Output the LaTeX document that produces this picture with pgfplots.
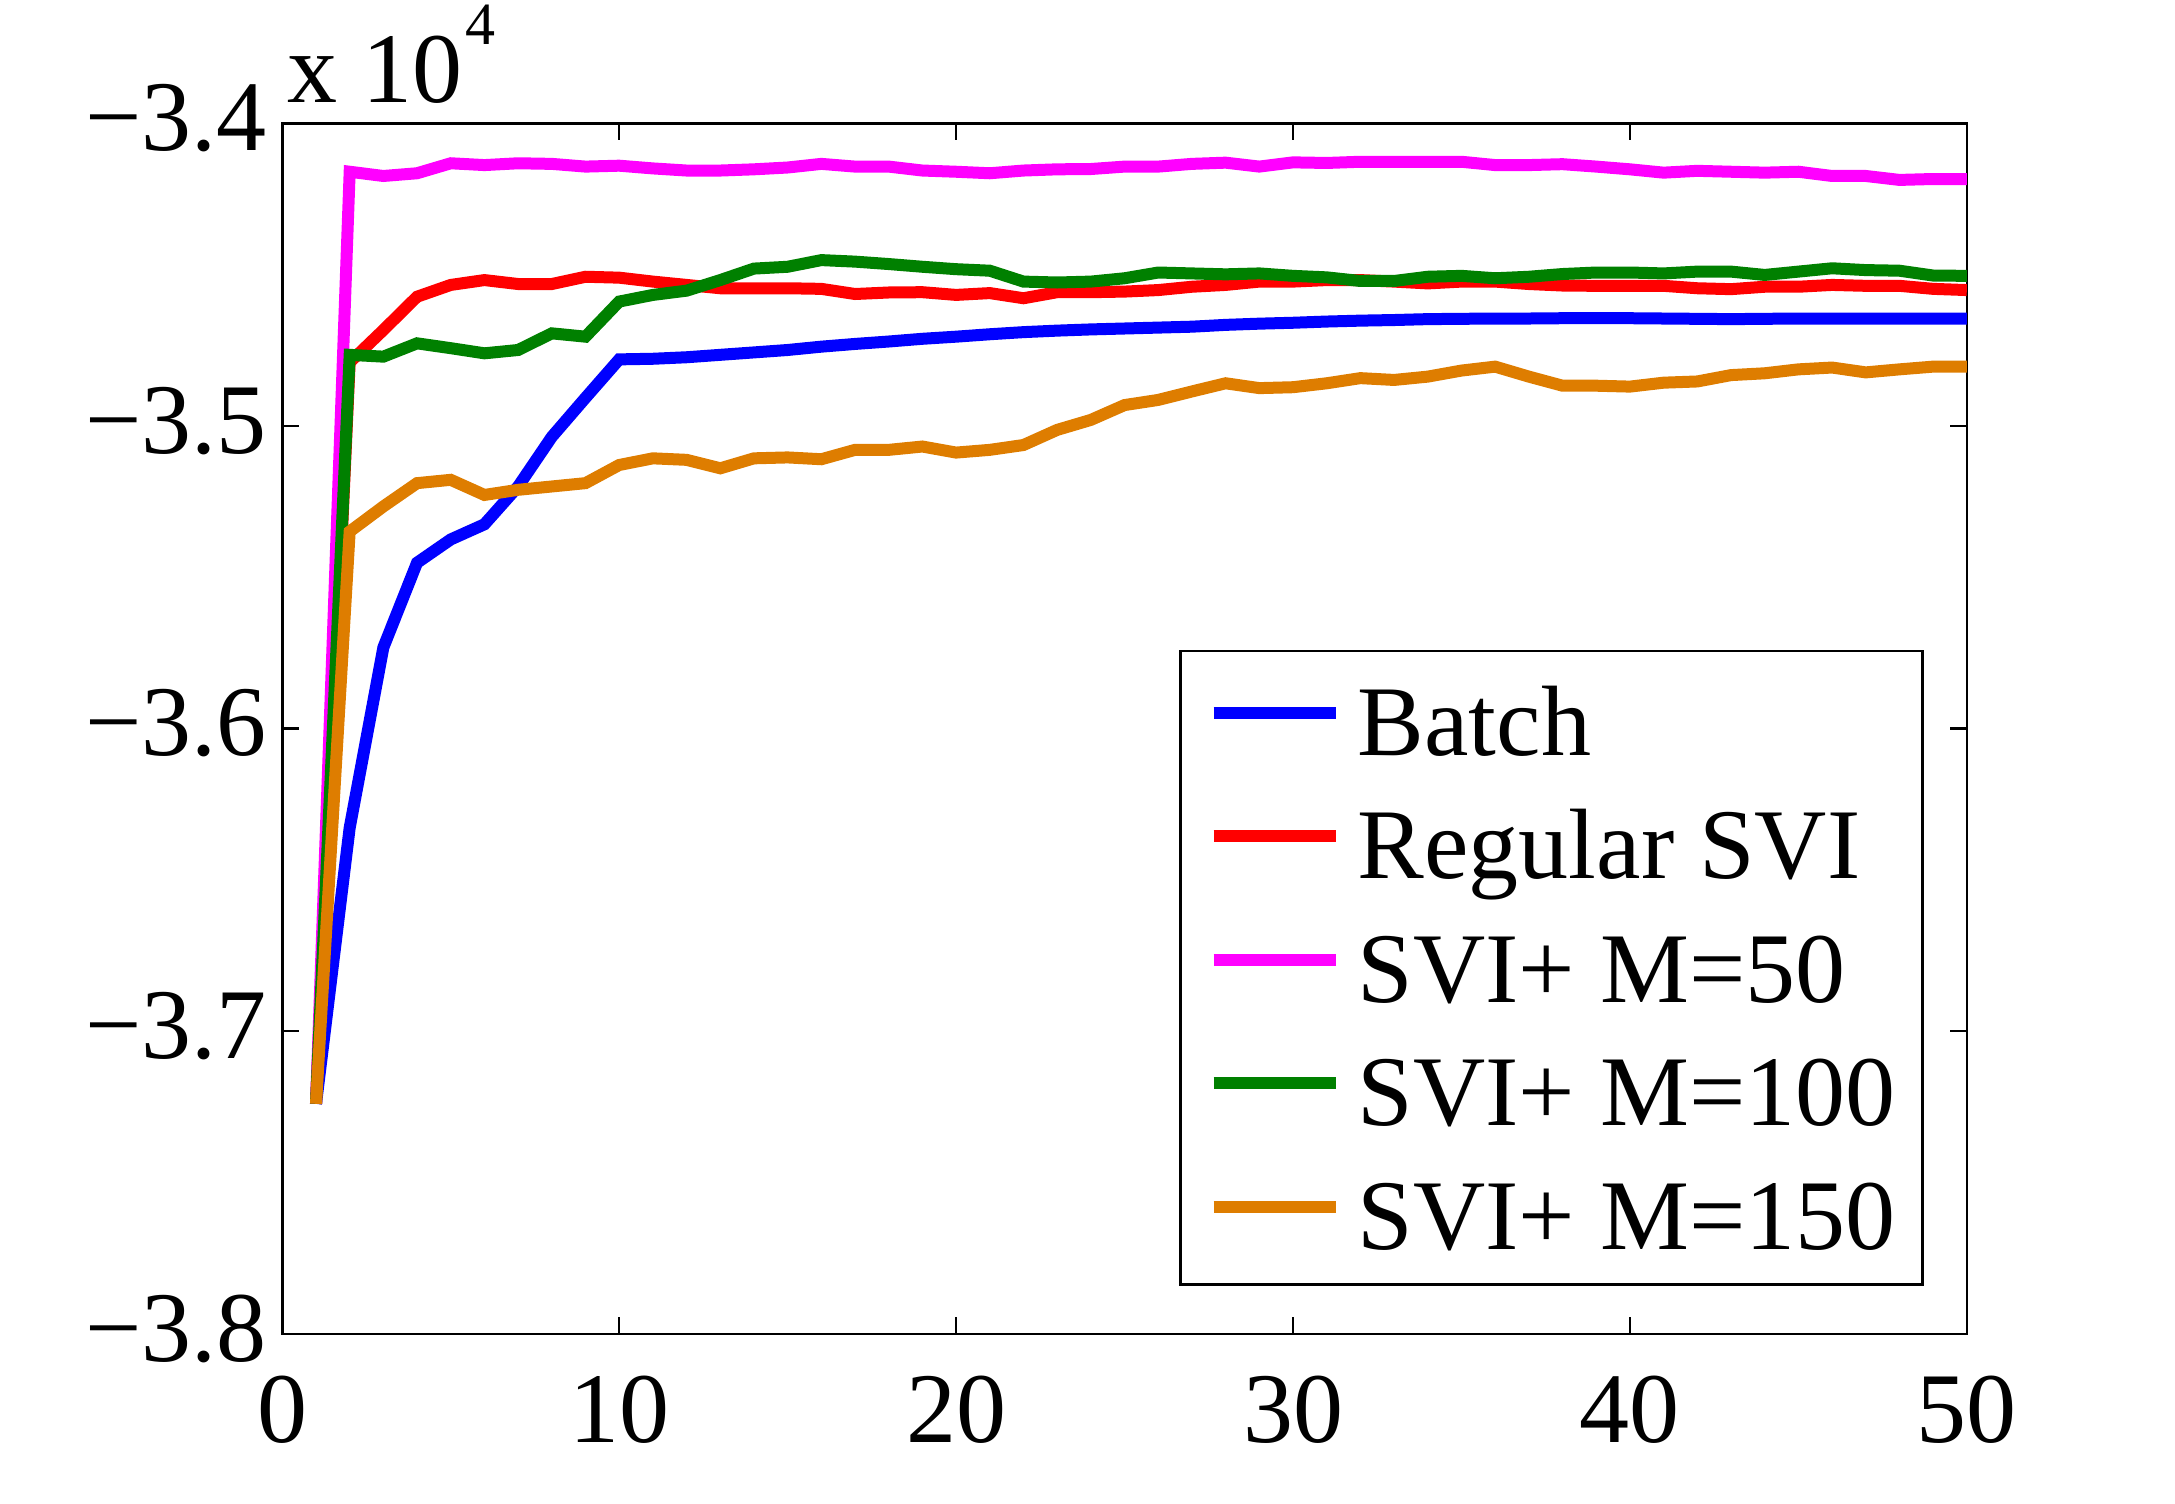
\documentclass[border=0pt]{standalone}
\usepackage{fontspec}
\setmainfont{Liberation Serif}
\usepackage{pgfplots}
\pgfplotsset{compat=1.18}

\definecolor{mBlue}{RGB}{0,0,255}
\definecolor{mRed}{RGB}{255,0,0}
\definecolor{mMagenta}{RGB}{255,0,255}
\definecolor{mGreen}{RGB}{0,128,0}
\definecolor{mOrange}{RGB}{222,125,0}

\begin{document}
\begin{tikzpicture}
\path[use as bounding box] (-56.46pt,-34pt) rectangle (378.54pt,266.76pt);
\begin{axis}[
  name=ax,
  scale only axis,
  width=336.9pt, height=242.1pt,
  xmin=0, xmax=50, ymin=-3.8, ymax=-3.4,
  xtick={0,10,20,30,40,50},
  xticklabels={0,10,20,30,40,50},
  ytick={-3.8,-3.7,-3.6,-3.5,-3.4},
  yticklabels={−3.8,−3.7,−3.6,−3.5,−3.4},
  tick align=inside,
  major tick length=3.4pt,
  axis line style={line width=0.5pt},
  every tick/.style={black, line width=0.5pt},
  tick label style={font=\fontsize{20}{24}\selectfont},
  xticklabel style={inner sep=0pt, anchor=north, yshift=-8.3pt},
  yticklabel style={inner sep=0pt, anchor=east, xshift=-2.9pt, yshift=1pt},
  legend image code/.code={\draw[#1] (0pt,1.6pt) -- (24.4pt,1.6pt);},
  legend cell align=left,
  legend style={
    at={(rel axis cs:1,0)}, anchor=south east,
    xshift=-8.6pt, yshift=9.6pt,
    draw=black, line width=0.5pt, fill=white,
    font=\fontsize{20}{24}\selectfont,
    inner xsep=5.4pt, inner ysep=4.6pt,
    column sep=3.2pt, row sep=6pt,
    nodes={inner sep=0pt, text height=16.2pt, text depth=2.5pt},
  },
  every axis plot/.append style={line width=2.4pt},
]
% Batch
\addplot[mBlue] coordinates {
(1,-3.724) (2,-3.6328) (3,-3.5732) (4,-3.5452) (5,-3.5375) (6,-3.5325)
(7,-3.5200) (8,-3.5036) (9,-3.4907) (10,-3.4780) (11,-3.4778) (12,-3.4773)
(13,-3.4765) (14,-3.4757) (15,-3.4749) (16,-3.4738) (17,-3.4729) (18,-3.4721)
(19,-3.4712) (20,-3.4705) (21,-3.4697) (22,-3.4690) (23,-3.4685) (24,-3.4681)
(25,-3.4678) (26,-3.4675) (27,-3.4672) (28,-3.4666) (29,-3.4662) (30,-3.4659)
(31,-3.4655) (32,-3.4652) (33,-3.4650) (34,-3.4647) (35,-3.4646) (36,-3.4645)
(37,-3.4645) (38,-3.4644) (39,-3.4644) (40,-3.4644) (41,-3.4645) (42,-3.4646)
(43,-3.4647) (44,-3.4646) (45,-3.4645) (46,-3.4645) (47,-3.4645) (48,-3.4645)
(49,-3.4645) (50,-3.4645)};
\addlegendentry{Batch}
% Regular SVI
\addplot[mRed] coordinates {
(1,-3.724) (2,-3.4790) (3,-3.4683) (4,-3.4573) (5,-3.4534) (6,-3.4518)
(7,-3.4531) (8,-3.4531) (9,-3.4507) (10,-3.4510) (11,-3.4523) (12,-3.4534)
(13,-3.4545) (14,-3.4545) (15,-3.4545) (16,-3.4547) (17,-3.4564) (18,-3.4559)
(19,-3.4558) (20,-3.4567) (21,-3.4561) (22,-3.4578) (23,-3.4558) (24,-3.4558)
(25,-3.4556) (26,-3.4551) (27,-3.4540) (28,-3.4534) (29,-3.4523) (30,-3.4523)
(31,-3.4518) (32,-3.4518) (33,-3.4523) (34,-3.4529) (35,-3.4523) (36,-3.4523)
(37,-3.4531) (38,-3.4536) (39,-3.4537) (40,-3.4537) (41,-3.4537) (42,-3.4545)
(43,-3.4548) (44,-3.4540) (45,-3.4540) (46,-3.4534) (47,-3.4537) (48,-3.4537)
(49,-3.4547) (50,-3.4551)};
\addlegendentry{Regular SVI}
% SVI+ M=50
\addplot[mMagenta] coordinates {
(1,-3.724) (2,-3.4160) (3,-3.4174) (4,-3.4165) (5,-3.4132) (6,-3.4138)
(7,-3.4132) (8,-3.4134) (9,-3.4143) (10,-3.4140) (11,-3.4149) (12,-3.4156)
(13,-3.4156) (14,-3.4152) (15,-3.4146) (16,-3.4134) (17,-3.4143) (18,-3.4143)
(19,-3.4156) (20,-3.4160) (21,-3.4165) (22,-3.4156) (23,-3.4152) (24,-3.4151)
(25,-3.4143) (26,-3.4143) (27,-3.4134) (28,-3.4130) (29,-3.4143) (30,-3.4129)
(31,-3.4131) (32,-3.4127) (33,-3.4127) (34,-3.4127) (35,-3.4127) (36,-3.4138)
(37,-3.4138) (38,-3.4135) (39,-3.4143) (40,-3.4152) (41,-3.4163) (42,-3.4157)
(43,-3.4160) (44,-3.4163) (45,-3.4160) (46,-3.4174) (47,-3.4174) (48,-3.4187)
(49,-3.4184) (50,-3.4184)};
\addlegendentry{SVI+ M=50}
% SVI+ M=100
\addplot[mGreen] coordinates {
(1,-3.724) (2,-3.4765) (3,-3.4771) (4,-3.4727) (5,-3.4743) (6,-3.4760)
(7,-3.4749) (8,-3.4694) (9,-3.4705) (10,-3.4589) (11,-3.4567) (12,-3.4553)
(13,-3.4518) (14,-3.4480) (15,-3.4474) (16,-3.4452) (17,-3.4457) (18,-3.4465)
(19,-3.4474) (20,-3.4482) (21,-3.4487) (22,-3.4523) (23,-3.4526) (24,-3.4523)
(25,-3.4512) (26,-3.4493) (27,-3.4496) (28,-3.4499) (29,-3.4496) (30,-3.4504)
(31,-3.4509) (32,-3.4521) (33,-3.4521) (34,-3.4507) (35,-3.4504) (36,-3.4512)
(37,-3.4507) (38,-3.4498) (39,-3.4493) (40,-3.4493) (41,-3.4496) (42,-3.4490)
(43,-3.4490) (44,-3.4501) (45,-3.4490) (46,-3.4479) (47,-3.4485) (48,-3.4487)
(49,-3.4503) (50,-3.4504)};
\addlegendentry{SVI+ M=100}
% SVI+ M=150
\addplot[mOrange] coordinates {
(1,-3.724) (2,-3.5349) (3,-3.5266) (4,-3.5189) (5,-3.5178) (6,-3.5228)
(7,-3.5211) (8,-3.5200) (9,-3.5189) (10,-3.5129) (11,-3.5107) (12,-3.5112)
(13,-3.5140) (14,-3.5107) (15,-3.5104) (16,-3.5110) (17,-3.5079) (18,-3.5079)
(19,-3.5068) (20,-3.5088) (21,-3.5079) (22,-3.5063) (23,-3.5013) (24,-3.4980)
(25,-3.4931) (26,-3.4914) (27,-3.4886) (28,-3.4859) (29,-3.4875) (30,-3.4872)
(31,-3.4859) (32,-3.4842) (33,-3.4848) (34,-3.4837) (35,-3.4817) (36,-3.4804)
(37,-3.4837) (38,-3.4867) (39,-3.4867) (40,-3.4870) (41,-3.4857) (42,-3.4853)
(43,-3.4832) (44,-3.4826) (45,-3.4813) (46,-3.4807) (47,-3.4823) (48,-3.4813)
(49,-3.4804) (50,-3.4804)};
\addlegendentry{SVI+ M=150}
\end{axis}
% exponent of the y axis
\node[anchor=base west, inner sep=0pt, font=\fontsize{20}{24}\selectfont]
  at ([xshift=0.9pt, yshift=4.2pt]ax.north west)
  {x 10\kern0.6pt\raisebox{11.5pt}{\fontsize{12}{14}\selectfont 4}};
\end{tikzpicture}
\end{document}
